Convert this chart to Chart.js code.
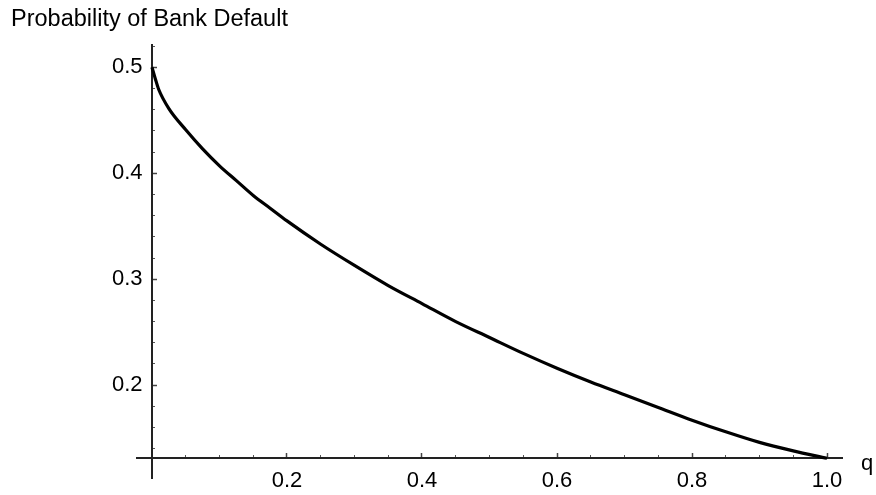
<!DOCTYPE html>
<html lang="en">

<head>
  <meta charset="UTF-8">
  <meta name="viewport" content="width=device-width, initial-scale=1.0">
  <script src="https://cdn.jsdelivr.net/npm/chart.js@4.4.1/dist/chart.umd.min.js"></script>
  <title>Probability of Bank Default</title>
  <style>
    body { margin: 0; background: #fff; }
  </style>
</head>

<body>
  <canvas id="myChart" width="876" height="495"></canvas>
  <script>
    // values
    const qValues = [0, 0.005, 0.01, 0.025, 0.05, 0.075, 0.1, 0.125, 0.15, 0.175, 0.2, 0.25, 0.3,
      0.35, 0.4, 0.45, 0.5, 0.55, 0.6, 0.65, 0.7, 0.75, 0.8, 0.85, 0.9, 0.95, 1.0]
    const defaultProb = [0.500, 0.489, 0.479, 0.461, 0.441, 0.423, 0.407, 0.393, 0.379, 0.367, 0.355, 0.333, 0.313,
      0.294, 0.277, 0.260, 0.245, 0.230, 0.216, 0.203, 0.191, 0.179, 0.167, 0.156, 0.146, 0.138, 0.131]

    const xMajor = [0.2, 0.4, 0.6, 0.8, 1.0]
    const xMinor = [0.05, 0.1, 0.15, 0.25, 0.3, 0.35, 0.45, 0.5, 0.55, 0.65, 0.7, 0.75, 0.85, 0.9, 0.95]
    const yMajor = [0.2, 0.3, 0.4, 0.5]
    const yMinor = [0.14, 0.16, 0.18, 0.22, 0.24, 0.26, 0.28, 0.32, 0.34, 0.36, 0.38, 0.42, 0.44, 0.46, 0.48, 0.52]

    const xTitle = 'q'
    const yTitle = 'Probability of Bank Default'

    // axis ranges (axes run a little past the data, Mathematica style)
    const xMin = -0.0222, xMax = 1.0222
    const yMin = 0.1124, yMax = 0.521
    const axisCross = 0.131

    const font = { family: '"Liberation Sans", Arial, sans-serif', size: 22 }

    const setTicks = (values) => (axis) => { axis.ticks = values.map(v => ({ value: v })) }

    const axisLabels = {
      id: 'axisLabels',
      afterDraw: (chart) => {
        const { ctx, chartArea, scales } = chart
        ctx.save()
        ctx.fillStyle = '#000'
        ctx.textAlign = 'left'
        ctx.textBaseline = 'alphabetic'
        ctx.font = '23.5px "Liberation Sans", Arial, sans-serif'
        ctx.fillText(yTitle, 11, chartArea.top - 19)
        ctx.font = '22px "Liberation Sans", Arial, sans-serif'
        ctx.fillText(xTitle, chartArea.right + 19, scales.y.getPixelForValue(axisCross) + 12)
        ctx.restore()
      }
    }

    const ctx = document.getElementById('myChart')
    const myChart = new Chart(ctx, {
      type: 'scatter',
      data: {
        datasets: [{
          data: qValues.map((q, i) => ({ x: q, y: defaultProb[i] })),
          showLine: true,
          borderColor: '#000',
          borderWidth: 3.2,
          pointRadius: 0,
          cubicInterpolationMode: 'monotone',
          xAxisID: 'x',
          yAxisID: 'y'
        }]
      },
      plugins: [axisLabels],
      options: {
        responsive: false,
        animation: false,
        layout: { padding: { left: 97, top: 45, right: 34, bottom: 17 } },
        plugins: { legend: { display: false }, tooltip: { enabled: false } },
        scales: {
          x: {
            type: 'linear', axis: 'x', min: xMin, max: xMax,
            position: { y: axisCross },
            afterBuildTicks: setTicks(xMajor),
            border: { display: true, color: '#222', width: 2 },
            grid: { drawOnChartArea: false, tickLength: -6, tickColor: '#444', tickWidth: 1.5 },
            ticks: { autoSkip: false, maxRotation: 0, padding: 15, color: '#000', font: font,
              callback: v => v.toFixed(1) }
          },
          xMinor: {
            type: 'linear', axis: 'x', min: xMin, max: xMax,
            position: { y: axisCross },
            afterBuildTicks: setTicks(xMinor),
            border: { display: false },
            grid: { drawOnChartArea: false, tickLength: -3, tickColor: '#555', tickWidth: 1 },
            ticks: { display: false, autoSkip: false }
          },
          // label-only axis; mirrored so the labels are not clipped at the chart area edge
          y: {
            type: 'linear', axis: 'y', min: yMin, max: yMax,
            position: 'left',
            afterBuildTicks: setTicks(yMajor),
            afterFit: (scale) => { scale.width = 40 },
            border: { display: false },
            grid: { display: false, drawTicks: false, tickLength: 0 },
            ticks: { autoSkip: false, mirror: true, padding: -25, color: '#000', font: font,
              callback: v => v.toFixed(1) }
          },
          yAxis: {
            type: 'linear', axis: 'y', min: yMin, max: yMax,
            position: { x: 0 },
            afterBuildTicks: setTicks(yMajor),
            border: { display: true, color: '#222', width: 2 },
            grid: { drawOnChartArea: false, tickLength: -6, tickColor: '#444', tickWidth: 1.5 },
            ticks: { display: false, autoSkip: false }
          },
          yMinor: {
            type: 'linear', axis: 'y', min: yMin, max: yMax,
            position: { x: 0 },
            afterBuildTicks: setTicks(yMinor),
            border: { display: false },
            grid: { drawOnChartArea: false, tickLength: -3, tickColor: '#555', tickWidth: 1 },
            ticks: { display: false, autoSkip: false }
          }
        }
      }
    })
  </script>
</body>

</html>
